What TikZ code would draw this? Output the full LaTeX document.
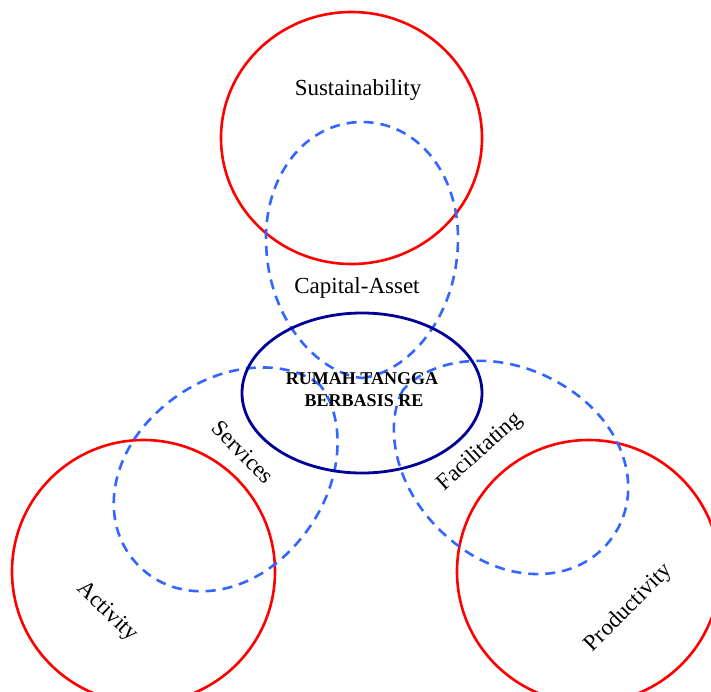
\documentclass[tikz,border=0pt]{standalone}
\usepackage{fontspec}
\setmainfont{Liberation Serif}
\usetikzlibrary{shapes.geometric}
\definecolor{circred}{RGB}{255,0,0}
\definecolor{dashblue}{RGB}{51,102,255}
\definecolor{navyring}{RGB}{0,0,150}
\begin{document}
\begin{tikzpicture}[x=1pt,y=-1pt,
  redring/.style={draw=circred, line width=2.6pt, inner sep=0pt},
  navyoval/.style={draw=navyring, line width=2.8pt, ellipse, inner sep=0pt},
  dashring/.style={draw=dashblue, line width=2.6pt, dash pattern=on 10pt off 7pt},
  lbl/.style={font=\fontsize{23}{27}\selectfont, inner sep=0pt},
  corelbl/.style={font=\bfseries\fontsize{18}{22}\selectfont, inner sep=0pt, anchor=base},
  teardrop/.pic={
    \draw[dashring] (0pt,0pt) .. controls (45pt,5pt) and (96pt,60pt) .. (96pt,140pt)
      .. controls (96pt,205pt) and (55pt,256pt) .. (0pt,256pt)
      .. controls (-55pt,256pt) and (-96pt,205pt) .. (-96pt,140pt)
      .. controls (-96pt,60pt) and (-45pt,5pt) .. (0pt,0pt) -- cycle;
  }]
\useasboundingbox (0,0) rectangle (711,691);
\clip (0,0) rectangle (711,691);

% red circles
\node[redring, ellipse, minimum width=261pt, minimum height=252pt] (sus) at (351.5,138) {};
\node[redring, circle, minimum size=263pt] (act) at (143.5,571.5) {};
\node[redring, circle, minimum size=263pt] (prod) at (588.5,571.5) {};

% dashed teardrops
\pic[rotate=0] at (362,378) {teardrop};
\pic[rotate=135] at (320,385) {teardrop};
\pic[rotate=-125] at (403,390) {teardrop};

% central oval
\node[navyoval, minimum width=240pt, minimum height=160pt] (core) at (362,393) {};

% labels
\node[lbl, anchor=base] (tsus) at (358,95) {Sustainability};
\node[lbl, anchor=base] (tcap) at (357,293) {Capital-Asset};
\node[corelbl] (tcore1) at (362,384) {RUMAH TANGGA};
\node[corelbl] (tcore2) at (364,406) {BERBASIS RE};
\node[lbl, rotate=-45] (tserv) at (243,452) {Services};
\node[lbl, rotate=42] (tfac) at (480,452) {Facilitating};
\node[lbl, rotate=-44] (tact) at (107,612) {Activity};
\node[lbl, rotate=45] (tprod) at (629,608) {Productivity};
\end{tikzpicture}
\end{document}
